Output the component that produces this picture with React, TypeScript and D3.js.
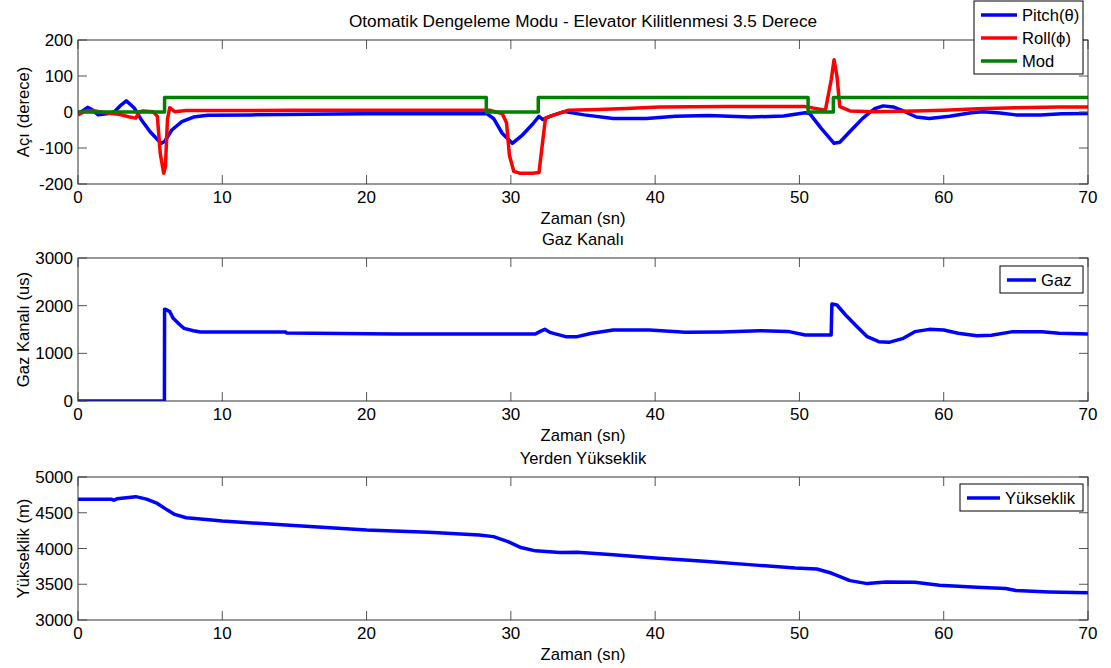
import React from "react";
import * as d3 from "d3";

// Time axis (seconds)
const timeTicks = [0, 10, 20, 30, 40, 50, 60, 70];

// Pitch angle (degrees)
const pitchT = [0, 0.3, 0.67, 1.0, 1.4, 2.0, 2.5, 3.0, 3.35, 3.9, 4.4, 5.0, 5.75, 6.0, 6.5, 7.2, 8.0, 9.0, 12, 16, 20, 24, 28.3, 28.8, 29.4, 30.1, 30.8, 31.5, 31.95, 32.2, 32.7, 33.7, 35.1, 37.1, 39.4, 41.4, 43.7, 46.6, 48.9, 50.4, 50.7, 51.5, 52.4, 52.8, 53.5, 54.4, 55.2, 55.8, 56.5, 57.2, 58.1, 59.0, 60.4, 61.9, 62.7, 63.9, 65.0, 66.7, 68.2, 70];
const pitchV = [-2, 2, 13, 6, -8, -5, 0, 20, 31, 11, -22, -55, -87, -82, -50, -27, -14, -9, -8, -6, -5, -5, -4, -18, -59, -87, -64, -34, -12, -21, -12, 1, -8, -18, -18, -12, -10, -14, -11, -2, -4, -45, -87, -84, -54, -17, 9, 17, 14, 3, -14, -18, -12, -2, 1, -3, -8, -8, -5, -4];

// Roll angle (degrees)
const rollT = [0, 0.5, 1.0, 2.0, 2.8, 3.5, 4.0, 4.25, 4.5, 5.2, 5.5, 5.7, 5.94, 6.06, 6.2, 6.36, 6.7, 7.5, 10, 15, 20, 25, 28.5, 29.4, 29.7, 29.9, 30.2, 30.6, 31.5, 31.95, 32.4, 32.8, 34.0, 36, 38, 40.3, 45, 50.4, 51.8, 52.2, 52.4, 52.6, 52.8, 53.5, 55.2, 58, 60, 62.4, 65, 68, 70];
const rollV = [-8, 3, 4, -3, -6, -13, -17, 0, 3, 1, -12, -115, -170, -151, -20, 12, 1, 4, 4, 5, 5, 5, 5, -4, -30, -120, -165, -170, -170, -168, -17, -11, 5, 7, 10, 14, 15, 15, 5, 89, 145, 100, 15, 3, 1, 3, 5, 9, 12, 14, 14];

// Mode flag (step changes)
const modT = [0, 6.0, 28.3, 31.9, 50.6, 52.35, 70];
const modV = [0, 40, 0, 40, 0, 40, 40];

// Throttle channel (us)
const gazT = [0, 5.99, 6.0, 6.1, 6.36, 6.6, 7.0, 7.35, 8.0, 8.5, 14.4, 14.45, 22, 31.7, 32.0, 32.35, 32.7, 33.8, 34.6, 35.6, 37.1, 39.6, 42.1, 44.6, 47.2, 49.2, 50.4, 52.2, 52.25, 52.6, 53.2, 54.0, 54.7, 55.5, 56.2, 57.2, 58.0, 59.0, 60.0, 61.0, 62.3, 63.3, 64.8, 66.8, 68.0, 70];
const gazV = [0, 0, 1924, 1920, 1875, 1734, 1615, 1524, 1475, 1447, 1447, 1426, 1405, 1405, 1455, 1503, 1440, 1350, 1350, 1420, 1490, 1490, 1440, 1450, 1475, 1460, 1385, 1385, 2034, 2014, 1804, 1559, 1350, 1245, 1231, 1315, 1455, 1503, 1490, 1420, 1371, 1380, 1455, 1455, 1420, 1405];

// Altitude above ground (m)
const altT = [0, 2.3, 2.5, 2.7, 4.0, 4.75, 5.5, 6.2, 6.7, 7.5, 8.5, 10, 14.4, 20, 24.3, 27.8, 28.8, 29.8, 30.7, 31.7, 33.4, 34.6, 37.1, 40, 43.4, 47.2, 49.7, 51.2, 52.2, 53.5, 54.7, 56, 58, 59.7, 62.3, 64.3, 65, 67.3, 70];
const altV = [4690, 4690, 4675, 4695, 4725, 4690, 4630, 4537, 4477, 4430, 4411, 4384, 4328, 4259, 4226, 4189, 4166, 4097, 4013, 3967, 3944, 3949, 3912, 3866, 3820, 3764, 3727, 3713, 3657, 3551, 3509, 3532, 3528, 3486, 3458, 3440, 3412, 3393, 3380];

const angleTicks = [-200, -100, 0, 100, 200];
const gazTicks = [0, 1000, 2000, 3000];
const altTicks = [3000, 3500, 4000, 4500, 5000];

const FONT = "'Liberation Sans', Arial, Helvetica, sans-serif";
const LEFT = 78;
const RIGHT = 1088;
const TICK = 9;
const TICK_FS = 17;
const LABEL_FS = 16.6;

const x = d3.scaleLinear().domain([0, 70]).range([LEFT, RIGHT]);

type Series = { t: number[]; v: number[]; color: string; label: string; step?: boolean };

function Panel(props: {
  top: number;
  bottom: number;
  domain: [number, number];
  yTicks: number[];
  title: string;
  titleSize: number;
  yLabel: string;
  series: Series[];
  legend: { x: number; y: number; w: number; lineW: number };
}) {
  const { top, bottom, domain, yTicks, title, titleSize, yLabel, series, legend } = props;
  const y = d3.scaleLinear().domain(domain).range([bottom, top]);
  const clipId = `clip-${top}`;
  const rowH = 23;
  const legH = series.length * rowH + 4;
  return (
    <g>
      <defs>
        <clipPath id={clipId}>
          <rect x={LEFT} y={top} width={RIGHT - LEFT} height={bottom - top} />
        </clipPath>
      </defs>
      <rect x={LEFT} y={top} width={RIGHT - LEFT} height={bottom - top} fill="#fff" />
      <g clipPath={`url(#${clipId})`}>
        {series.map((s, i) => {
          const pts = s.t.map((t, k) => [t, s.v[k]] as [number, number]);
          const line = d3
            .line<[number, number]>()
            .x((d) => x(d[0]))
            .y((d) => y(d[1]))
            .curve(s.step ? d3.curveStepAfter : d3.curveLinear);
          return (
            <path
              key={i}
              d={line(pts) || ""}
              fill="none"
              stroke={s.color}
              strokeWidth={3.5}
              strokeLinejoin="round"
            />
          );
        })}
      </g>
      {/* ticks inside on all four sides */}
      {timeTicks.map((t) => (
        <g key={`xt${t}`} stroke="#555" strokeWidth={1}>
          <line x1={x(t)} x2={x(t)} y1={bottom} y2={bottom - TICK} />
          <line x1={x(t)} x2={x(t)} y1={top} y2={top + TICK} />
        </g>
      ))}
      {yTicks.map((v) => (
        <g key={`yt${v}`} stroke="#555" strokeWidth={1}>
          <line x1={LEFT} x2={LEFT + TICK} y1={y(v)} y2={y(v)} />
          <line x1={RIGHT} x2={RIGHT - TICK} y1={y(v)} y2={y(v)} />
        </g>
      ))}
      <rect x={LEFT} y={top} width={RIGHT - LEFT} height={bottom - top} fill="none" stroke="#333" strokeWidth={1} />
      {timeTicks.map((t) => (
        <text key={`xl${t}`} x={x(t)} y={bottom + 19} textAnchor="middle" fontSize={TICK_FS} fill="#000">
          {t}
        </text>
      ))}
      {yTicks.map((v) => (
        <text key={`yl${v}`} x={LEFT - 5} y={y(v) + 6} textAnchor="end" fontSize={TICK_FS} fill="#000">
          {v}
        </text>
      ))}
      <text x={(LEFT + RIGHT) / 2} y={bottom + 40} textAnchor="middle" fontSize={LABEL_FS} fill="#000">
        Zaman (sn)
      </text>
      <text x={(LEFT + RIGHT) / 2} y={top - 13} textAnchor="middle" fontSize={titleSize} fill="#000">
        {title}
      </text>
      <text
        transform={`translate(29,${(top + bottom) / 2}) rotate(-90)`}
        textAnchor="middle"
        fontSize={LABEL_FS}
        fill="#000"
      >
        {yLabel}
      </text>
      <g>
        <rect x={legend.x} y={legend.y} width={legend.w} height={legH} fill="#fff" stroke="#000" strokeWidth={1} />
        {series.map((s, i) => {
          const cy = legend.y + 14 + i * rowH;
          return (
            <g key={`lg${i}`}>
              <line x1={legend.x + 7} x2={legend.x + 7 + legend.lineW} y1={cy} y2={cy} stroke={s.color} strokeWidth={3.5} />
              <text x={legend.x + 12 + legend.lineW} y={cy + 6} fontSize={LABEL_FS} fill="#000">
                {s.label}
              </text>
            </g>
          );
        })}
      </g>
    </g>
  );
}

export default function App() {
  return (
    <svg
      width={1111}
      height={668}
      style={{ position: "absolute", left: 0, top: 0, fontFamily: FONT, background: "#fff" }}
    >
      <rect width={1111} height={668} fill="#fff" />
      <Panel
        top={40}
        bottom={184}
        domain={[-200, 200]}
        yTicks={angleTicks}
        title="Otomatik Dengeleme Modu - Elevator Kilitlenmesi 3.5 Derece"
        titleSize={17.2}
        yLabel="Açı (derece)"
        series={[
          { t: pitchT, v: pitchV, color: "#0000ff", label: "Pitch(θ)" },
          { t: rollT, v: rollV, color: "#ff0000", label: "Roll(ϕ)" },
          { t: modT, v: modV, color: "#008000", label: "Mod", step: true },
        ]}
        legend={{ x: 974, y: 1, w: 109, lineW: 36 }}
      />
      <Panel
        top={258}
        bottom={401}
        domain={[0, 3000]}
        yTicks={gazTicks}
        title="Gaz Kanalı"
        titleSize={LABEL_FS}
        yLabel="Gaz Kanalı (us)"
        series={[{ t: gazT, v: gazV, color: "#0000ff", label: "Gaz" }]}
        legend={{ x: 1000, y: 266, w: 83, lineW: 29 }}
      />
      <Panel
        top={477}
        bottom={620}
        domain={[3000, 5000]}
        yTicks={altTicks}
        title="Yerden Yükseklik"
        titleSize={LABEL_FS}
        yLabel="Yükseklik (m)"
        series={[{ t: altT, v: altV, color: "#0000ff", label: "Yükseklik" }]}
        legend={{ x: 960, y: 484, w: 123, lineW: 33 }}
      />
    </svg>
  );
}
